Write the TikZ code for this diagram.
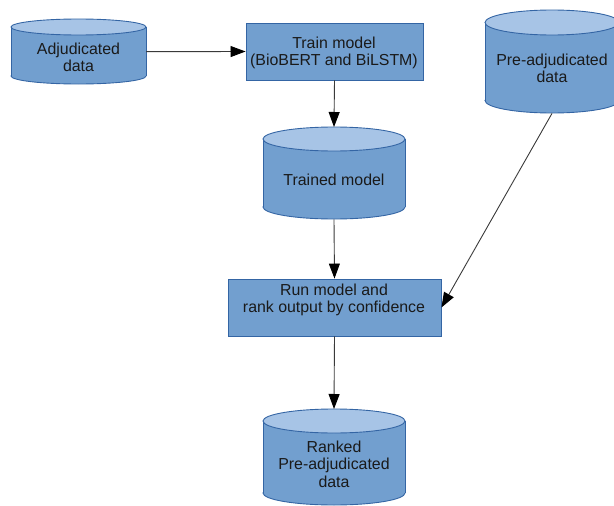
\documentclass[tikz,border=0pt]{standalone}
\usepackage{fontspec}
\setmainfont{Liberation Sans}
\usetikzlibrary{arrows.meta}
\definecolor{bodyblue}{HTML}{729FCF}
\definecolor{topblue}{HTML}{A7C4E6}
\definecolor{lineblue}{HTML}{3465A4}
\definecolor{txt}{HTML}{1A1A1A}
\definecolor{conn}{HTML}{3A3A3A}
\tikzset{
  cylbody/.style={fill=bodyblue},
  cylline/.style={draw=lineblue, line width=0.9pt},
  cyltop/.style={fill=topblue, draw=lineblue, line width=0.9pt},
  procbox/.style={rectangle, fill=bodyblue, draw=lineblue, line width=0.9pt, inner sep=0pt},
  lbl/.style={anchor=north, align=center, inner sep=0pt, text=txt,
    font=\fontsize{15.9}{17.3}\selectfont},
  flow/.style={draw=conn, line width=0.9pt,
    -{Triangle[length=15pt, width=11pt, color=black]}},
}
\newcommand\drawcyl[6]{%
  \pgfmathsetmacro\mycx{(#2+#3)/2}%
  \pgfmathsetmacro\myrx{(#3-#2)/2}%
  \pgfmathsetmacro\myw{#3-#2}%
  \pgfmathsetmacro\myh{#5-#4}%
  \filldraw[cylbody, cylline] (\mycx, #5-#6) ellipse [x radius=\myrx pt, y radius=#6 pt];
  \fill[cylbody] (#2, #4+#6) rectangle (#3, #5-#6);
  \draw[cylline] (#2, #4+#6) -- (#2, #5-#6) (#3, #4+#6) -- (#3, #5-#6);
  \filldraw[cyltop] (\mycx, #4+#6) ellipse [x radius=\myrx pt, y radius=#6 pt];
  \node[inner sep=0pt, minimum width=\myw pt, minimum height=\myh pt, anchor=north] (#1) at (\mycx, #4) {};
}
\begin{document}
\begin{tikzpicture}[x=1pt, y=-1pt]
\useasboundingbox (0,0) rectangle (614,506);
\clip (0,0) rectangle (614,506);

% cylinders
\drawcyl{adj}{11}{146}{19}{84}{8}
\drawcyl{pre}{485}{619}{10}{113}{12.5}
\drawcyl{trained}{263}{405}{127}{219}{12}
\drawcyl{ranked}{263}{405}{409}{505}{12}

% process boxes
\node[procbox, minimum width=177pt, minimum height=57pt] (train) at (334.5, 51.5) {};
\node[procbox, minimum width=213pt, minimum height=57pt] (run) at (334.5, 307.5) {};

% labels
\node[lbl] (adjT) at (78.5, 42.5) {Adjudicated\\data};
\node[lbl] (trainT) at (334, 36.8) {Train model\\(BioBERT and BiLSTM)};
\node[lbl] (preT) at (552, 53.5) {Pre-adjudicated\\data};
\node[lbl] (trainedT) at (334, 173.5) {Trained model};
\node[lbl] (runT) at (334, 283.5) {Run model and\\rank output by confidence};
\node[lbl] (rankedT) at (334, 440.8) {Ranked\\Pre-adjudicated\\data};

% connectors
\draw[flow] (adj.east) -- (train.west);
\draw[flow] (train.south) -- (trained.north);
\draw[flow] (trained.south) -- (run.north);
\draw[flow] (run.south) -- (ranked.north);
\draw[flow] (pre.south) -- (run.east);
\end{tikzpicture}
\end{document}
